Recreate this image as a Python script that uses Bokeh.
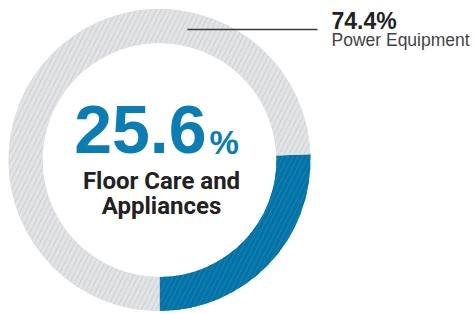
import numpy as np
from bokeh.plotting import figure
from bokeh.models import Range1d
from bokeh.core.properties import value
from bokeh.embed import file_html
from bokeh.resources import INLINE

# data
categories = ["Floor Care and Appliances", "Power Equipment"]
shares = [25.6, 74.4]
fills = ["#0a84bb", "#cfd1d4"]
hatches = ["#0672a4", "#e2e3e5"]

W, H = 474, 314
p = figure(width=W, height=H, output_backend="svg", toolbar_location=None,
           x_range=Range1d(0, W), y_range=Range1d(0, H),
           min_border=0, outline_line_color=None)
p.axis.visible = False
p.grid.visible = False
p.background_fill_color = "white"
p.border_fill_color = "white"

cx, cy = 159, 154.5
r_out, r_in = 151, 117

start_deg = -90.0
angles = np.cumsum([0] + shares) / 100.0 * 360.0 + start_deg
for i in range(len(shares)):
    p.annular_wedge(x=cx, y=cy, inner_radius=r_in, outer_radius=r_out,
                    start_angle=np.radians(angles[i]), end_angle=np.radians(angles[i + 1]),
                    fill_color=fills[i], line_color=None,
                    hatch_pattern="right_diagonal_line", hatch_color=hatches[i],
                    hatch_scale=10, hatch_weight=3.5)

# leader line
p.line(x=[187, 317], y=[285, 285], line_color="#3a3a3a", line_width=1.5)

p.text(x=[331], y=[294], text=[f"{shares[1]}%"], text_font=value("Liberation Sans"),
       text_font_style="bold", text_font_size="23px", text_color="#222222",
       text_baseline="alphabetic", text_align="left")
p.text(x=[331], y=[274.5], text=[categories[1]], text_font=value("Liberation Sans"),
       text_font_size="17.5px", text_color="#444444",
       text_baseline="alphabetic", text_align="left")

p.text(x=[206], y=[185.5], text=[f"{shares[0]}"], text_font=value("Liberation Sans"),
       text_font_style="bold", text_font_size="68px", text_color="#0a7db3",
       text_baseline="alphabetic", text_align="right")
p.text(x=[209], y=[172.5], text=["%"], text_font=value("Liberation Sans"),
       text_font_style="bold", text_font_size="33px", text_color="#0a7db3",
       text_baseline="alphabetic", text_align="left")

p.text(x=[161, 161], y=[133.5, 109], text=["Floor Care and", "Appliances"],
       text_font=value("Roboto"), text_font_style="bold",
       text_font_size="24px", text_color="#222222",
       text_baseline="alphabetic", text_align="center")

open("out.html", "w").write(file_html(p, INLINE))
